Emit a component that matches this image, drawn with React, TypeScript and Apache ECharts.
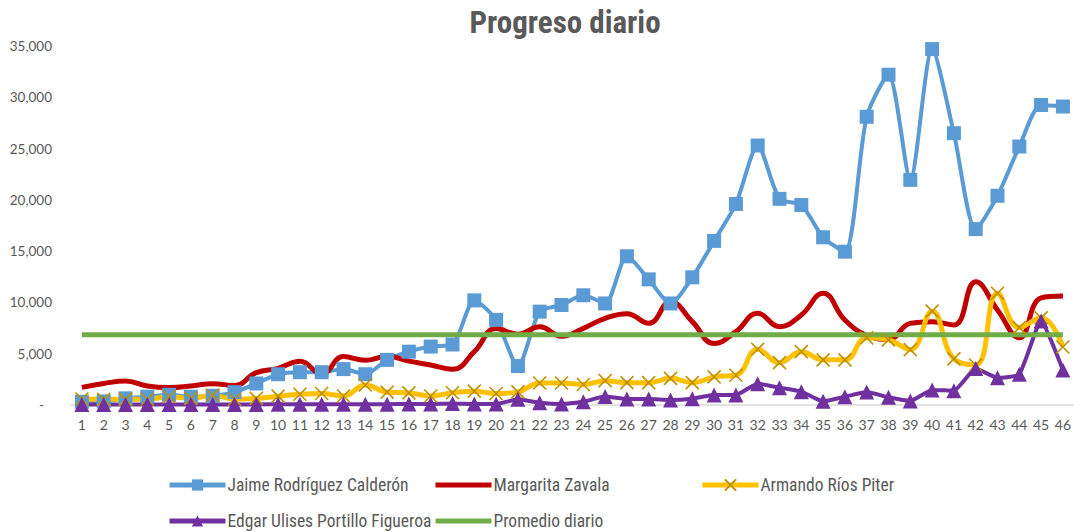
import React, { useEffect, useRef } from "react";
import * as echarts from "echarts";

const categories = [
  "1","2","3","4","5","6","7","8","9","10","11","12","13","14","15","16","17","18","19","20","21","22","23",
  "24","25","26","27","28","29","30","31","32","33","34","35","36","37","38","39","40","41","42","43","44","45","46",
];

const jaime = [
  320, 350, 650, 810, 1000, 810, 900, 1250, 2100, 3000, 3200, 3200, 3500, 3000, 4400, 5200, 5700, 5900,
  10200, 8300, 3800, 9100, 9750, 10700, 9900, 14500, 12250, 9900, 12450, 16000, 19600, 25300, 20100, 19500,
  16350, 14950, 28100, 32200, 21950, 34700, 26500, 17150, 20400, 25200, 29250, 29100,
];

const margarita = [
  1720, 2100, 2340, 1850, 1700, 1850, 2080, 1900, 3150, 3575, 4260, 3020, 4720, 4360, 4750, 4280, 3900, 3480,
  5200, 7450, 6900, 7640, 6700, 7475, 8450, 8900, 7960, 10075, 8125, 6000, 7150, 8940, 7640, 8775, 10900,
  8290, 6800, 6400, 7960, 8125, 7800, 12025, 9260, 6550, 10450, 10630,
];

const armando = [
  580, 550, 550, 560, 800, 650, 950, 560, 640, 860, 1050, 1120, 880, 1950, 1250, 1180, 880, 1200, 1350,
  1120, 1280, 2150, 2150, 2000, 2370, 2180, 2180, 2600, 2180, 2740, 2900, 5430, 4130, 5200, 4400, 4400,
  6550, 6350, 5400, 9150, 4500, 3900, 10890, 7550, 8500, 5650,
];

const edgar = [
  60, 60, 60, 60, 60, 60, 60, 60, 60, 80, 80, 80, 80, 80, 80, 100, 100, 150, 100, 100, 550, 230, 100, 320,
  820, 585, 585, 490, 620, 975, 975, 2080, 1680, 1300, 360, 810, 1270, 750, 400, 1460, 1400, 3550, 2650,
  3000, 8200, 3410,
];

const promedio = [
  6850, 6850, 6850, 6850, 6850, 6850, 6850, 6850, 6850, 6850, 6850, 6850, 6850, 6850, 6850, 6850, 6850,
  6850, 6850, 6850, 6850, 6850, 6850, 6850, 6850, 6850, 6850, 6850, 6850, 6850, 6850, 6850, 6850, 6850,
  6850, 6850, 6850, 6850, 6850, 6850, 6850, 6850, 6850, 6850, 6850, 6850,
];

const yTicks = [0, 5000, 10000, 15000, 20000, 25000, 30000, 35000];

const names = [
  "Jaime Rodríguez Calderón",
  "Margarita Zavala",
  "Armando Ríos Piter",
  "Edgar Ulises Portillo Figueroa",
  "Promedio diario",
];

const TEXT = "#595959";
const NARROW = "'Liberation Sans Narrow', 'Arial Narrow', 'Roboto Condensed', 'Liberation Sans', Arial, sans-serif";
const AXISFONT = "Lato, 'Open Sans', sans-serif";

export default function App() {
  const ref = useRef<HTMLDivElement>(null);

  useEffect(() => {
    if (!ref.current) return;
    const chart = echarts.init(ref.current, undefined, { renderer: "svg" });

    const legendPos = [
      { left: 167, top: 476 },
      { left: 433, top: 476 },
      { left: 700, top: 476 },
      { left: 167, top: 512 },
      { left: 433, top: 512 },
    ];
    const hideMarker = [false, true, false, false, true];

    chart.setOption({
      animation: false,
      backgroundColor: "#ffffff",
      title: {
        text: "Progreso diario",
        left: 560,
        top: 2,
        textAlign: "center",
        textStyle: {
          fontFamily: NARROW,
          fontWeight: "bold",
          fontSize: 31,
          color: TEXT,
        },
      },
      legend: names.map((n, i) => ({
        data: [n],
        left: legendPos[i].left,
        top: legendPos[i].top,
        itemWidth: 56,
        itemHeight: 14,
        itemGap: 0,
        padding: 0,
        lineStyle: { width: 5 },
        ...(hideMarker[i] ? { itemStyle: { opacity: 0 } } : {}),
        textStyle: { fontFamily: NARROW, fontSize: 17.5, color: TEXT, padding: [0, 0, 0, -3] },
      })),
      grid: { left: 71, right: -2, top: 46, bottom: 127, containLabel: false },
      xAxis: {
        type: "category",
        data: categories,
        boundaryGap: true,
        axisLine: { show: true, lineStyle: { color: "#D9D9D9", width: 1.5 } },
        axisTick: { show: false },
        axisLabel: { fontFamily: AXISFONT, fontSize: 14, color: TEXT, margin: 12, interval: 0 },
      },
      yAxis: {
        type: "value",
        min: yTicks[0],
        max: yTicks[yTicks.length - 1],
        interval: yTicks[1] - yTicks[0],
        splitLine: { show: false },
        axisLine: { show: false },
        axisTick: { show: false },
        axisLabel: {
          fontFamily: AXISFONT,
          fontSize: 13.5,
          color: TEXT,
          margin: 19,
          formatter: (v: number) => (v === 0 ? "{d|-}" : v.toLocaleString("en-US")),
          rich: { d: { fontFamily: AXISFONT, fontSize: 13.5, color: TEXT, padding: [0, 8, 0, 0] } },
        },
      },
      series: [
        {
          name: names[0],
          type: "line",
          data: jaime,
          smooth: 0.25,
          symbol: "rect",
          symbolSize: 14,
          lineStyle: { color: "#5B9BD5", width: 4 },
          itemStyle: { color: "#5B9BD5" },
        },
        {
          name: names[1],
          type: "line",
          data: margarita,
          smooth: 0.45,
          symbol: "circle",
          showSymbol: false,
          lineStyle: { color: "#C00000", width: 5 },
          itemStyle: { color: "#C00000" },
        },
        {
          name: names[2],
          type: "line",
          data: armando,
          smooth: 0.45,
          symbol: "path://M0,0L10,10M10,0L0,10",
          symbolSize: 13,
          lineStyle: { color: "#FFC000", width: 5 },
          itemStyle: { color: "#FFC000", borderColor: "#BF9000", borderWidth: 1.6 },
        },
        {
          name: names[3],
          type: "line",
          data: edgar,
          smooth: 0.15,
          symbol: "triangle",
          symbolSize: 15,
          lineStyle: { color: "#7030A0", width: 4 },
          itemStyle: { color: "#7030A0" },
        },
        {
          name: names[4],
          type: "line",
          data: promedio,
          symbol: "circle",
          showSymbol: false,
          lineStyle: { color: "#70AD47", width: 5 },
          itemStyle: { color: "#70AD47" },
        },
      ],
    });

    return () => chart.dispose();
  }, []);

  return <div ref={ref} style={{ width: 1074, height: 532, position: "absolute", left: 0, top: 0 }} />;
}
